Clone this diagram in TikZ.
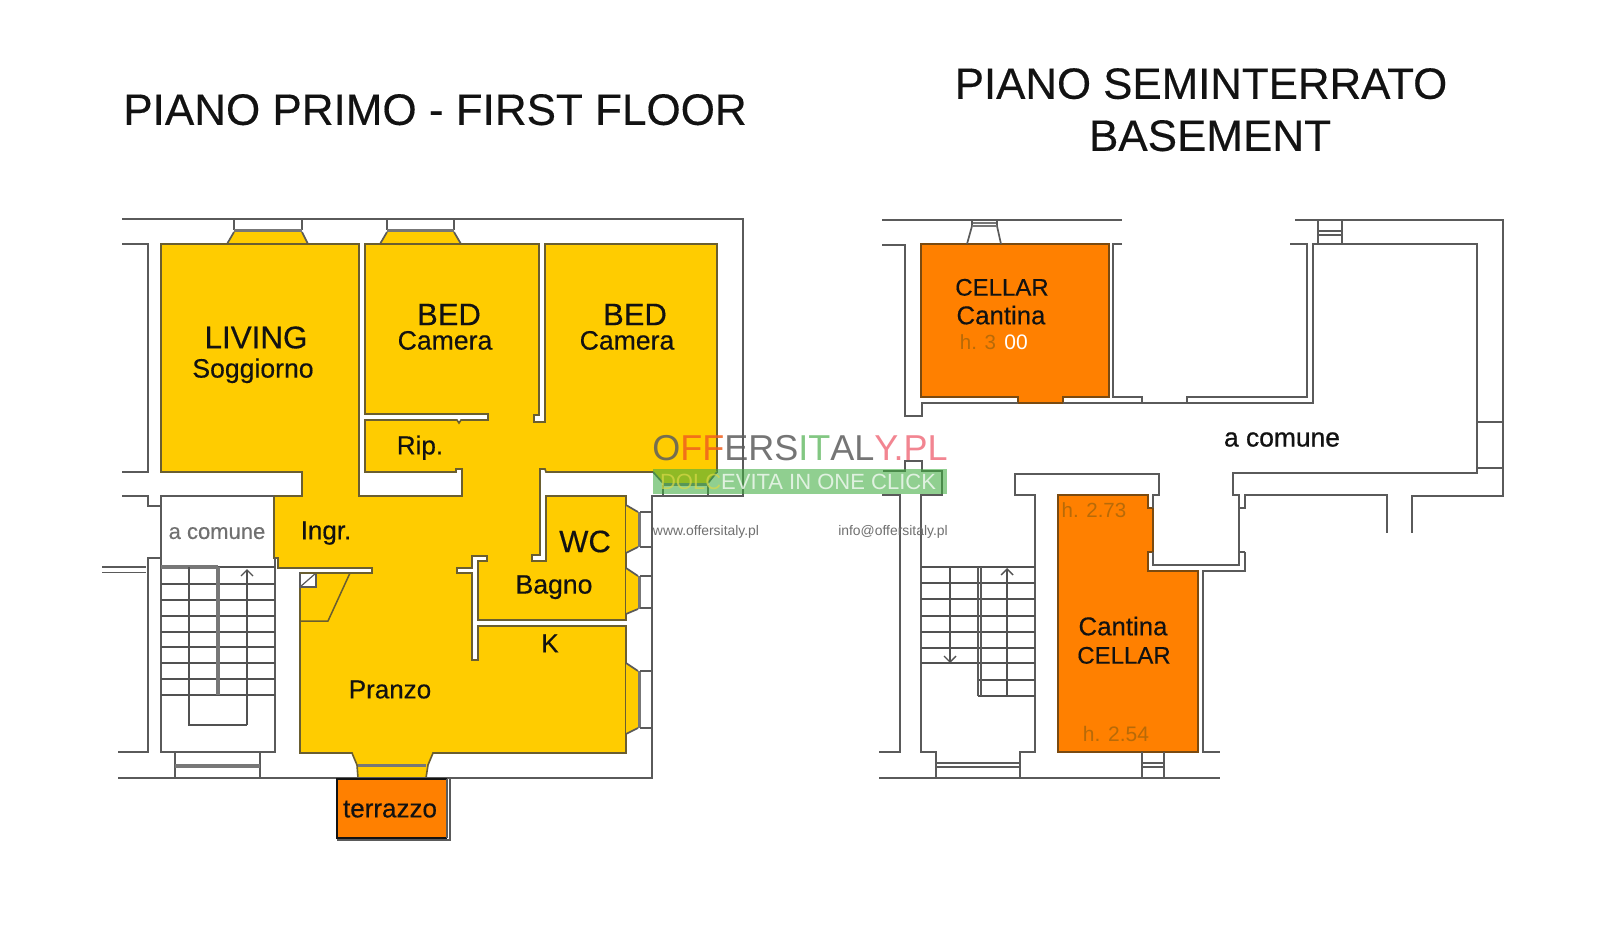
\documentclass[tikz,border=0pt]{standalone}
\usepackage{fontspec}
\setmainfont{Liberation Sans}
\newfontfamily\labfont[FakeBold=0.35]{Liberation Sans}
\newfontfamily\strongfont[FakeBold=0.8]{Liberation Sans}
\usetikzlibrary{arrows.meta}
\definecolor{wallc}{HTML}{5A5A5A}
\definecolor{sillc}{HTML}{777777}
\definecolor{roomy}{HTML}{FFCC00}
\definecolor{roomo}{HTML}{FF8000}
\definecolor{edgey}{HTML}{6A5E30}
\definecolor{edgeo}{HTML}{7A4A10}
\definecolor{inkc}{HTML}{121212}
\definecolor{softc}{HTML}{707070}
\definecolor{htc}{HTML}{B86A08}
\definecolor{wmgray}{HTML}{5E5E5E}
\definecolor{wmred}{HTML}{F0601E}
\definecolor{wmgreen}{HTML}{6DBE6D}
\definecolor{wmpink}{HTML}{F0707E}
\definecolor{wmbar}{HTML}{40AE40}
\definecolor{wmdol}{HTML}{D8D848}
\tikzset{
  wall/.style={draw=wallc,line width=1.7pt,line join=miter},
  sill/.style={draw=sillc,line width=3.6pt},
  thinwall/.style={draw=wallc,line width=1.4pt},
  stairline/.style={draw=wallc!90!black,line width=1.5pt},
  yroom/.style={fill=roomy,draw=edgey,line width=1.6pt,line join=miter},
  oroom/.style={fill=roomo,draw=edgeo,line width=1.5pt,line join=miter},
  lab/.style={inner sep=0pt,outer sep=0pt,text depth=0pt,align=center},
  headtip/.style={-{Straight Barb[length=6pt,width=12pt,line width=1.4pt]}}
}
\newcommand{\lab}[6][inkc]{\node[lab,text=#1,font=\labfont\fontsize{#5}{#5}\selectfont,text height={0.72*#5pt}] (#2) at (#3,#4) {#6};}
\begin{document}
\begin{tikzpicture}[x=1pt,y=-1pt]
\useasboundingbox (0,0) rectangle (1600,927);
\fill[white] (0,0) rectangle (1600,927);

% ---------- first floor ----------
\fill[roomy] (227,243) -- (234,232) -- (302,232) -- (308,243) -- cycle;
\draw[wall] (227,244) -- (234,232) (302,232) -- (308,244);
\fill[roomy] (380,243) -- (387,232) -- (454,232) -- (461,243) -- cycle;
\draw[wall] (380,244) -- (387,232) (454,232) -- (461,244);
\draw[yroom] (161,244) -- (359,244) -- (359,496) -- (462,496) -- (462,469) -- (456,469) -- (456,472)
  -- (365,472) -- (365,420) -- (457,420) -- (459,423) -- (461,420) -- (488,420) -- (488,414) -- (365,414)
  -- (365,244) -- (539,244) -- (539,415) -- (534,415) -- (534,422) -- (545,422) -- (545,244) -- (717,244)
  -- (717,472) -- (546,472) -- (545,469) -- (540,469) -- (540,555) -- (532,555) -- (532,561) -- (546,561)
  -- (546,496) -- (626,496) -- (626,620) -- (478,620) -- (478,561) -- (487,561) -- (487,556) -- (472,556)
  -- (472,568) -- (457,568) -- (457,573) -- (472,573) -- (472,660) -- (478,660) -- (478,626) -- (626,626)
  -- (626,753) -- (433,753) -- (428,765) -- (426,778) -- (358,778) -- (357,765) -- (352,753) -- (300,753)
  -- (300,573) -- (372,573) -- (372,568) -- (278,568) -- (278,558) -- (274,558) -- (274,496) -- (302,496)
  -- (302,472) -- (161,472) -- cycle;
% window sills, top wall
\draw[wall] (122,219) -- (743,219) -- (743,496) -- (652,496) -- (652,778) -- (118,778);
\draw[wall] (234,219) -- (234,230) (302,219) -- (302,230) (387,219) -- (387,230) (454,219) -- (454,230);
\draw[sill] (234,230.5) -- (302,230.5) (387,230.5) -- (454,230.5);
% south window of bed 2
\fill[roomy] (653,471) -- (663,483) -- (708,483) -- (717,471) -- cycle;
\draw[wall] (653,472) -- (663,483) (708,483) -- (717,472);
\draw[sill] (663,484.5) -- (708,484.5);
\draw[wall] (663,485) -- (663,496) (708,485) -- (708,496);
% east windows
\fill[roomy] (626,505) -- (638,512) -- (638,547) -- (626,553) -- cycle;
\draw[wall] (626,505) -- (638,512) (638,547) -- (626,553);
\fill[roomy] (626,568) -- (638,576) -- (638,609) -- (626,614) -- cycle;
\draw[wall] (626,568) -- (638,576) (638,609) -- (626,614);
\fill[roomy] (626,663) -- (638,671) -- (638,728) -- (626,734) -- cycle;
\draw[wall] (626,663) -- (638,671) (638,728) -- (626,734);
\draw[sill] (639.5,512) -- (639.5,547) (639.5,576) -- (639.5,609) (639.5,671) -- (639.5,728);
\draw[wall] (640,512) -- (652,512) (640,547) -- (652,547) (640,576) -- (652,576) (640,608) -- (652,608) (640,671) -- (652,671) (640,728) -- (652,728);
% door to terrace
\draw[sill] (358,765.5) -- (426,765.5);
% terrace
\fill[roomo] (337,779) rectangle (447,838);
\draw[inkc,line width=2pt] (447,779) -- (337,779) -- (337,838) -- (447,838);
\draw[wall,line width=1.4pt] (447,779) -- (447,838) (450,779) -- (450,840) -- (337,840);
% west walls
\draw[wall] (122,244) -- (148,244) -- (148,472) -- (122,472);
\draw[wall] (122,496) -- (148,496) -- (148,506) -- (161,506) -- (161,496) -- (274,496);
\draw[wall] (161,496) -- (161,752) -- (275,752) -- (275,558);
\draw[wall] (160,558) -- (148,558) -- (148,752) -- (118,752);
\draw[thinwall] (102,567) -- (146,567) (102,572.5) -- (146,572.5);
% stair window
\draw[wall] (175,752) -- (175,778) (260,752) -- (260,778);
\draw[sill] (175,766) -- (260,766);
% stairs
\foreach \yy in {584,600,616,632,647,663,679,695} {\draw[stairline] (161,\yy) -- (275,\yy);}
\draw[stairline] (218,567) -- (275,567);
\draw[sill] (161,567) -- (218,567);
\draw[sill,line width=4.4pt] (218,567) -- (218,695);
\draw[stairline] (189,567) -- (189,725) -- (247,725);
\draw[stairline,headtip] (247,725) -- (247,569);
% closet
\draw[fill=white,draw=wallc,line width=1.5pt] (300,573) rectangle (316,587);
\draw[draw=wallc,line width=1.2pt] (300,587) -- (316,573);
\draw[draw=edgey,line width=1.5pt] (350,573) -- (328,621) -- (300,621);
\draw[edgey,line width=1.6pt] (300,573) -- (372,573);

% ---------- basement ----------
\draw[oroom] (921,244) -- (1109,244) -- (1109,397) -- (1063,397) -- (1063,403) -- (1018,403) -- (1018,397) -- (921,397) -- cycle;
\draw[oroom] (1058,495) -- (1148,495) -- (1148,508) -- (1153,508) -- (1153,552) -- (1148,552) -- (1148,571) -- (1198,571) -- (1198,752) -- (1058,752) -- cycle;
\draw[wall] (882,220) -- (1122,220);
\draw[sill,line width=2pt] (972,223) -- (997,223);
\draw[wall] (972,220) -- (972,226) -- (967,244) (997,220) -- (997,226) -- (1001,244);
\draw[sill,line width=2pt] (972,226) -- (997,226);
\draw[wall] (882,245) -- (905,245) -- (905,416) -- (922,416) -- (922,403) -- (1018,403);
\draw[wall] (1063,403) -- (1313,403) -- (1313,244) -- (1477,244) -- (1477,473) -- (1233,473) -- (1233,495) -- (1239,495) -- (1239,565) -- (1153,565) -- (1153,552);
\draw[wall] (1122,244) -- (1113,244) -- (1113,397) -- (1142,397) -- (1142,403);
\draw[wall] (1187,403) -- (1187,397) -- (1307,397) -- (1307,244) -- (1290,244);
\draw[wall] (1295,220) -- (1503,220) -- (1503,496) -- (1412,496) -- (1412,533);
\draw[wall] (1318,220) -- (1318,244) (1342,220) -- (1342,244);
\draw[thinwall] (1318,231) -- (1342,231) (1318,235) -- (1342,235);
\draw[wall] (1477,422) -- (1503,422) (1477,468) -- (1503,468);
\draw[wall] (1245,552) -- (1239,552) (1245,552) -- (1245,571) -- (1203,571) -- (1203,752) -- (1220,752);
\draw[wall] (1239,508) -- (1245,508) -- (1245,495) -- (1387,495) -- (1387,533);
\draw[wall] (1153,508) -- (1153,495) -- (1159,495) -- (1159,474) -- (1015,474) -- (1015,495) -- (1035,495) -- (1035,752) -- (1020,752) -- (1020,778);
\draw[wall] (883,471) -- (905,471) -- (905,461) -- (922,461) -- (922,471) -- (942,471) -- (942,495) -- (921,495) -- (921,752) -- (936,752) -- (936,778);
\draw[wall] (882,495) -- (900,495) -- (900,752) -- (879,752);
\draw[wall] (879,778) -- (1220,778);
\draw[wall] (1142,752) -- (1142,778) (1164,752) -- (1164,778);
\draw[thinwall] (1142,763) -- (1164,763) (1142,767) -- (1164,767) (936,763) -- (1020,763) (936,767) -- (1020,767);
% basement stairs
\foreach \yy in {567,583,599,616,632,648,663} {\draw[stairline] (921,\yy) -- (1035,\yy);}
\foreach \yy in {680,696} {\draw[stairline] (978,\yy) -- (1035,\yy);}
\draw[thinwall] (978,567) -- (978,696) (981,567) -- (981,696);
\draw[stairline,headtip] (950,567) -- (950,663);
\draw[stairline,headtip] (1007,696) -- (1007,568);

% ---------- texts ----------
\lab{title1}{435}{109}{44}{PIANO PRIMO - FIRST FLOOR}
\lab{title2}{1201}{83}{43.8}{PIANO SEMINTERRATO}
\lab{title3}{1210}{135}{44}{BASEMENT}
\lab{living}{256}{337}{31.4}{LIVING}
\lab{sogg}{253}{368}{26.6}{Soggiorno}
\lab{bedone}{449}{314}{31}{BED}
\lab{camone}{445}{340}{26.6}{Camera}
\lab{bedtwo}{635}{314}{31}{BED}
\lab{camtwo}{627}{340}{26.6}{Camera}
\lab{rip}{420}{445}{26}{Rip.}
\lab{ingr}{326}{530}{26}{Ingr.}
\lab[softc]{comone}{217}{531}{22}{a comune}
\lab{wc}{585}{541}{31}{WC}
\lab{bagno}{554}{584}{26.6}{Bagno}
\lab{kit}{550}{643}{26}{K}
\lab{pranzo}{390}{689}{26}{Pranzo}
\lab{terr}{390}{808}{26}{terrazzo}
\lab{cellone}{1002}{287}{24}{CELLAR}
\lab{cantone}{1001}{315}{25.8}{Cantina}
\node[lab,font=\fontsize{20.5}{20.5}\selectfont,text height=14.8pt,text=htc] (hone) at (978,342) {h. 3};
\node[lab,font=\fontsize{21}{21}\selectfont,text height=15.2pt,text=white] (zeros) at (1016,342) {00};
\node[lab,font=\fontsize{20.5}{20.5}\selectfont,text height=14.8pt,text=htc] (htwo) at (1094,510) {h. 2.73};
\node[lab,font=\fontsize{21}{21}\selectfont,text height=15.2pt,text=htc] (hthree) at (1116,734) {h. 2.54};
\lab{canttwo}{1123}{626}{25.8}{Cantina}
\lab{celltwo}{1124}{655}{24}{CELLAR}
\node[lab,text=inkc,font=\strongfont\fontsize{26.4}{26.4}\selectfont,text height=19pt] (comtwo) at (1282,437) {a comune};

% ---------- watermark ----------
\fill[wmbar,fill opacity=.58] (653,469) rectangle (947,494);
\node[lab,font=\fontsize{36}{36}\selectfont,text height=25.9pt,text opacity=.85] (wmark) at (800,448)
  {\textcolor{wmgray}{O}\textcolor{wmred}{FF}\textcolor{wmgray}{ERS}\textcolor{wmgreen}{IT}\textcolor{wmgray}{AL}\textcolor{wmpink}{Y.PL}};
\node[lab,font=\fontsize{22}{22}\selectfont,text height=15.8pt,text=white,text opacity=.72] (wmbartext) at (798,482) {\textcolor{wmdol}{DOLC}EVITA IN ONE CLICK};
\node[lab,font=\fontsize{13.9}{13.9}\selectfont,text height=10pt,text=softc] (www) at (706,530) {www.offersitaly.pl};
\node[lab,font=\fontsize{13.9}{13.9}\selectfont,text height=10pt,text=softc] (info) at (893,530) {info@offersitaly.pl};
\end{tikzpicture}
\end{document}
